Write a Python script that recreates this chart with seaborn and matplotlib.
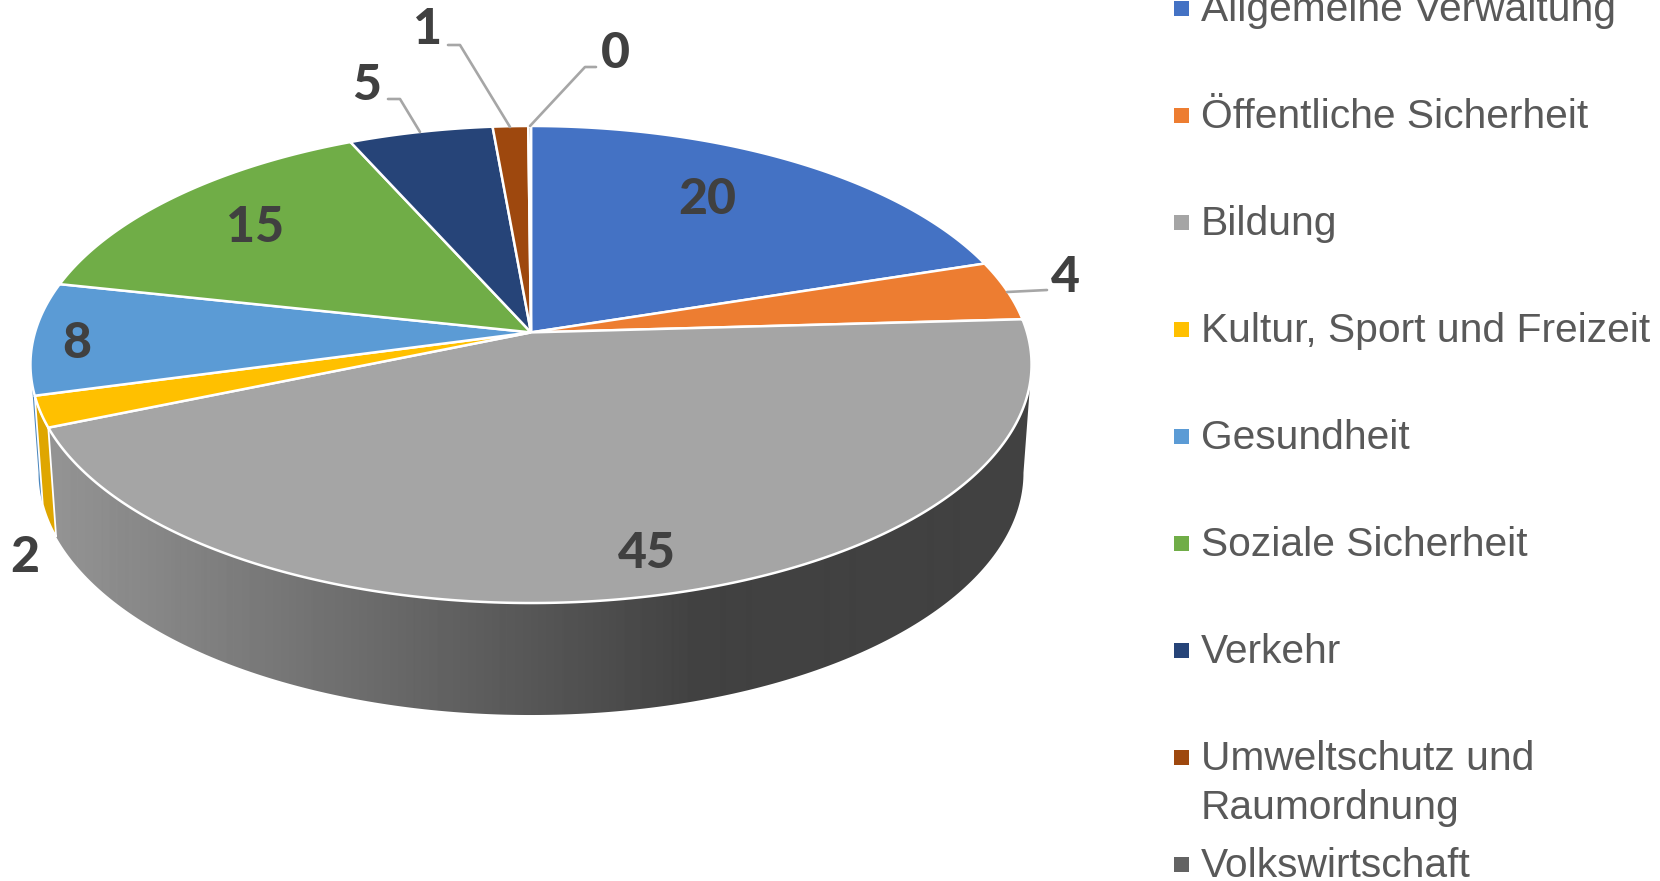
import numpy as np
import matplotlib
matplotlib.use("Agg")
import matplotlib.pyplot as plt
import seaborn as sns
from matplotlib.patches import Polygon, Rectangle
from matplotlib.path import Path
from matplotlib.transforms import Affine2D, Transform

# ---- data ----
categories = ["Allgemeine Verwaltung", "Öffentliche Sicherheit", "Bildung",
              "Kultur, Sport und Freizeit", "Gesundheit", "Soziale Sicherheit",
              "Verkehr", "Umweltschutz und\nRaumordnung", "Volkswirtschaft"]
# slice sizes (the printed labels are rounded)
values = [20.05, 4.05, 44.6, 2.1, 7.6, 14.9, 5.3, 1.3, 0.1]
labels_shown = [20, 4, 45, 2, 8, 15, 5, 1, 0]
colors = ["#4472C4", "#ED7D31", "#A5A5A5", "#FFC000", "#5B9BD5",
          "#70AD47", "#264478", "#9E480E", "#636363"]

# ---- layout (figure pixels) ----
W, H = 1660, 881
APEX_X = 531.0
TOP = dict(a=496.0, b=234.2, c=332.4)
BOTTOM = dict(a=488.0, b=238.0, c=440.0)
P = 0.1346
LABEL_POS = [(707, 199), (1065, 278), (647, 553), (25, 557), (77, 343),
             (255, 227), (367, 85), (428, 30), (615, 53)]
LEADERS = [[(1007, 292), (1047, 290)],
           [(420, 132), (400, 99), (388, 99)],
           [(510, 127), (460, 45), (448, 45)],
           [(530, 126), (585, 67), (596, 67)]]
LEGEND_Y0, LEGEND_STEP = 8.8, 107.0
LINE_STEP = 49.5


class Homography(Transform):
    """Perspective view of the unit disc onto figure pixels."""
    input_dims = output_dims = 2
    is_separable = False
    has_inverse = False

    def __init__(self, a, b, c):
        super().__init__()
        self.a, self.b, self.c = a, b, c

    def transform_non_affine(self, v):
        v = np.asarray(v, float)
        d = 1 + P * v[:, 1]
        return np.column_stack([APEX_X + self.a * v[:, 0] / d,
                                self.c - self.b * v[:, 1] / d])

    def transform_path_non_affine(self, path):
        big = 4000.0
        polys = path.transformed(Affine2D().scale(big)).to_polygons()
        return Path(self.transform_non_affine(np.vstack(polys) / big))


top_h = Homography(**TOP)
bot_h = Homography(**BOTTOM)


def rim(h, s0, s1, n=200):
    ang = np.radians(90 - 3.6 * np.linspace(s0, s1, n))
    return h.transform_non_affine(np.column_stack([np.cos(ang), np.sin(ang)]))


def wall(s0, s1):
    return np.vstack([rim(top_h, s0, s1), rim(bot_h, s0, s1)[::-1]])


sns.set_theme(style="white")
fig = plt.figure(figsize=(W / 100, H / 100), dpi=100, facecolor="white")
ax = fig.add_axes([0, 0, 1, 1])

cum = np.cumsum([0] + values)
edge = np.degrees(np.arccos(-P)) / 3.6      # silhouette of the disc, in shares
s_bild = (max(cum[2], edge), cum[3])
s_kult = (cum[3], cum[4])
s_ges = (cum[4], 100 - edge)

# side wall
ges = Polygon(wall(*s_ges), closed=True, fc="#4A86BE", ec="none", zorder=1)
ax.add_patch(ges)
grad = np.interp(np.arange(W), [57, 700], [0x93, 0x41]) / 255
img = ax.imshow(np.tile(grad, (H, 1)), cmap="gray", vmin=0, vmax=1,
                extent=(0, W, H, 0), aspect="auto", zorder=2,
                interpolation="bilinear")
clip = Polygon(wall(*s_bild), closed=True, transform=ax.transData,
               fc="none", ec="none")
ax.add_patch(clip)
img.set_clip_path(clip)
ax.add_patch(Polygon(wall(*s_kult), closed=True, fc="#DFA600", ec="white",
                     lw=1.3, zorder=3))

# top face
wedges, _ = ax.pie(values, colors=colors, startangle=90, counterclock=False,
                   radius=1, wedgeprops=dict(edgecolor="white", linewidth=1.8))
for w in wedges:
    w.set_transform(top_h + ax.transData)
    w.set_zorder(4)

ax.set_position([0, 0, 1, 1])
ax.set_aspect("auto")
ax.set_xlim(0, W)
ax.set_ylim(H, 0)
ax.axis("off")

# leader lines
for pts in LEADERS:
    xs, ys = zip(*pts)
    ax.plot(xs, ys, color="#A6A6A6", lw=1.9, zorder=5, clip_on=False)

# data labels
for val, (x, y) in zip(labels_shown, LABEL_POS):
    ax.text(x, y, str(val), ha="center", va="center", family="Lato",
            weight=900, fontsize=36, color="#404040", zorder=6)

# legend
for i, (name, col) in enumerate(zip(categories, colors)):
    yc = LEGEND_Y0 + i * LEGEND_STEP
    ax.add_patch(Rectangle((1174, yc - 7.5), 15, 15, fc=col, ec="none", zorder=6))
    extra = name.count("\n") * LINE_STEP
    ax.text(1201, yc + 12 + extra, name, ha="left", va="baseline",
            family="Liberation Sans", fontsize=29.3, color="#595959",
            linespacing=1.36, zorder=6)

fig.savefig("out.png", dpi=100, facecolor="white")
